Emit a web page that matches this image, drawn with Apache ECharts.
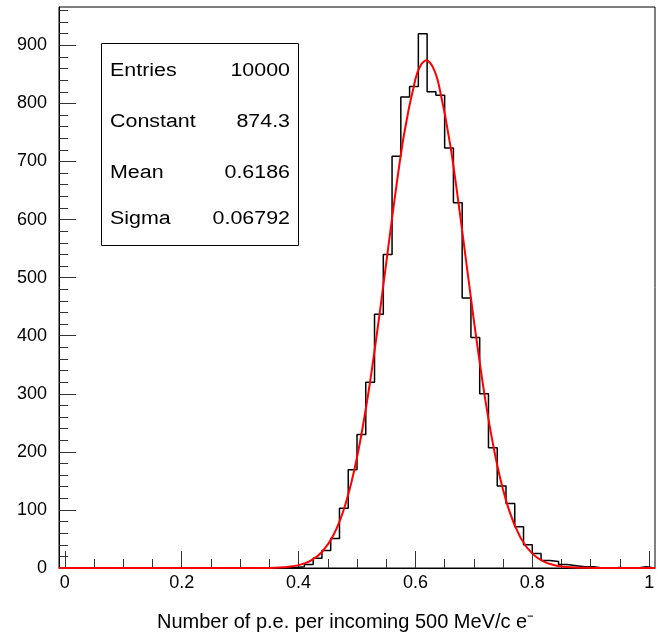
<!DOCTYPE html>
<html><head><meta charset="utf-8">
<script src="https://cdn.jsdelivr.net/npm/echarts@6/dist/echarts.min.js"></script>
<style>html,body{margin:0;padding:0;background:#fff}#c{width:667px;height:635px}</style>
</head><body><div id="c"></div>
<script>
// ---- data ----
const binLow = -0.01;
const binWidth = 0.015;
const binCounts = [
  0,0,0,0,0,0,0,0,0,0,
  0,0,0,0,0,0,0,0,0,0,
  0,0,0,0,0,1,1,2,6,17,
  30,51,103,169,230,320,437,540,709,811,
  829,920,820,814,723,629,465,397,300,207,
  141,111,71,40,25,13,11,6,4,2,
  2,0,0,1,0,0,2,0
];
const fitX = [-0.01,0.30,0.34,0.36,0.38,0.40,0.42,0.44,0.46,0.48,0.50,0.52,0.54,0.56,0.58,0.60,0.61,0.6186,0.63,0.64,0.66,0.68,0.70,0.72,0.74,0.76,0.78,0.80,0.82,0.84,0.86,0.88,0.90,0.94,1.01];
const fitY = [0,0,0.2,0.6,1.8,4.9,12.2,27.6,57.2,109.0,190.4,304.8,447.6,602.6,743.9,842.1,867.3,874.3,862.1,832.0,726.0,581.0,426.3,286.9,177.0,100.1,51.9,24.7,10.8,4.3,1.6,0.5,0.2,0,0];
const xMajorTicks = [0,0.2,0.4,0.6,0.8,1];
const xMinorTicks = [0.05,0.1,0.15,0.25,0.3,0.35,0.45,0.5,0.55,0.65,0.7,0.75,0.85,0.9,0.95];
const yMajorTicks = [0,100,200,300,400,500,600,700,800,900];
const yMinorTicks = [20,40,60,80,120,140,160,180,220,240,260,280,320,340,360,380,420,440,460,480,520,540,560,580,620,640,660,680,720,740,760,780,820,840,860,880,920,940,960];
const statsLabels = ['Entries','Constant','Mean','Sigma'];
const statsValues = ['10000','874.3','0.6186','0.06792'];
const xTitle = 'Number of p.e. per incoming 500 MeV/c e\u207B';

// ---- build ----
const FONT = '"Liberation Sans", Arial, Helvetica, sans-serif';
const xMin = -0.01, xMax = 1.01, yMin = 0, yMax = 966;
const histData = binCounts.map((v, i) => [binLow + i * binWidth, v]);
histData.push([binLow + binCounts.length * binWidth, binCounts[binCounts.length - 1]]);
const fitData = fitX.map((x, i) => [x, fitY[i]]);

const statY = [71.5, 122.5, 173, 219];
const graphics = [
  {type:'rect', z:100, shape:{x:101.5, y:43.5, width:197, height:202}, style:{fill:'#fff', stroke:'#000', lineWidth:1}}
];
statsLabels.forEach((t, i) => {
  graphics.push({type:'text', z:101, x:110, y:statY[i], scaleX:1.19,
    style:{text:t, font:'18px ' + FONT, fill:'#000', align:'left', verticalAlign:'middle'}});
  graphics.push({type:'text', z:101, x:290, y:statY[i], scaleX:1.19,
    style:{text:statsValues[i], font:'18px ' + FONT, fill:'#000', align:'right', verticalAlign:'middle'}});
});
graphics.push({type:'text', z:101, x:157, y:622,
  style:{text:xTitle, font:'20px ' + FONT, fill:'#000', align:'left', verticalAlign:'middle'}});

const tickStyle = {color:'#333', width:1};
const option = {
  backgroundColor:'#fff',
  animation:false,
  grid:{left:59, top:7, width:596, height:561, show:true, borderColor:'#000', borderWidth:1, backgroundColor:'transparent', containLabel:false, outerBoundsMode:'none'},
  xAxis:[
    {type:'value', min:xMin, max:xMax, position:'bottom', offset:0,
     axisLine:{show:true, onZero:false, lineStyle:{color:'#000', width:1}},
     axisTick:{show:true, inside:true, length:17, customValues:xMajorTicks, lineStyle:tickStyle},
     axisLabel:{show:true, customValues:xMajorTicks, margin:6, fontSize:18, fontFamily:FONT, color:'#000'},
     splitLine:{show:false}},
    {type:'value', min:xMin, max:xMax, position:'bottom', offset:0,
     axisLine:{show:false, onZero:false},
     axisTick:{show:true, inside:true, length:9, customValues:xMinorTicks, lineStyle:tickStyle},
     axisLabel:{show:false},
     splitLine:{show:false}}
  ],
  yAxis:[
    {type:'value', min:yMin, max:yMax, position:'left', offset:0,
     axisLine:{show:true, onZero:false, lineStyle:{color:'#000', width:1}},
     axisTick:{show:true, inside:true, length:17, customValues:yMajorTicks, lineStyle:tickStyle},
     axisLabel:{show:true, customValues:yMajorTicks, margin:12, fontSize:18, fontFamily:FONT, color:'#000'},
     splitLine:{show:false}},
    {type:'value', min:yMin, max:yMax, position:'left', offset:0,
     axisLine:{show:false, onZero:false},
     axisTick:{show:true, inside:true, length:9, customValues:yMinorTicks, lineStyle:tickStyle},
     axisLabel:{show:false},
     splitLine:{show:false}}
  ],
  series:[
    {type:'line', xAxisIndex:0, yAxisIndex:0, data:histData, step:'end', symbol:'none',
     lineStyle:{color:'#000', width:1.5}, z:3},
    {type:'line', xAxisIndex:0, yAxisIndex:0, data:fitData, smooth:0.3, symbol:'none',
     lineStyle:{color:'#ff0000', width:2}, z:4}
  ],
  graphic:graphics
};
const chart = echarts.init(document.getElementById('c'), null, {renderer:'canvas'});
chart.setOption(option);
</script>
</body></html>
